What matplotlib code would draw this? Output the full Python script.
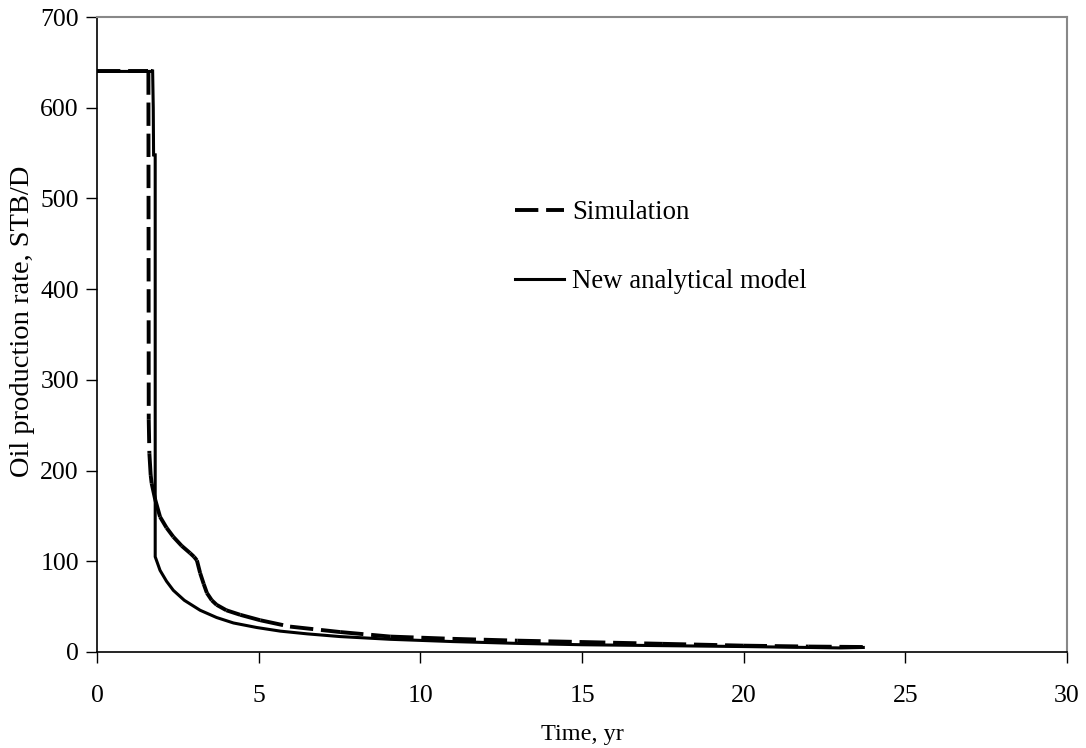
import matplotlib
matplotlib.use("Agg")
import matplotlib.pyplot as plt
import numpy as np
from matplotlib.collections import LineCollection
from matplotlib.lines import Line2D

# Simulation (dashed)
sim_t = [0.0, 1.59, 1.60, 1.62, 1.66, 1.69, 1.80, 1.95, 2.15, 2.36, 2.62, 2.88, 3.00, 3.09, 3.19,
         3.30, 3.40, 3.55, 3.70, 4.00, 4.43, 5.05, 5.97, 7.52, 9.07, 11.0, 13.0, 15.0, 17.5, 20.0, 22.0, 23.7]
sim_q = [640, 640, 256, 219, 195, 186, 168, 149, 137, 127, 117, 109, 105, 101, 87,
         75, 65, 57, 52, 46, 41, 35, 28, 22, 17, 14.5, 12.5, 11, 9, 7, 6, 5.5]

# New analytical model (solid)
ana_t = [0.0, 1.70, 1.72, 1.74, 1.75, 1.80, 1.80, 1.95, 2.15, 2.36, 2.70, 3.19, 3.70, 4.22, 4.94,
         5.67, 6.5, 7.52, 9.07, 11.0, 13.0, 15.0, 17.5, 20.0, 22.0, 23.0, 23.7]
ana_q = [640, 640, 642, 600, 548, 548, 105, 90, 78, 68, 57, 46, 38, 32, 27,
         23, 20, 17, 14, 11.5, 9.5, 8, 7, 6, 5, 4.5, 5]

x_ticks = [0, 5, 10, 15, 20, 25, 30]
y_ticks = [0, 100, 200, 300, 400, 500, 600, 700]

plt.rcParams['font.family'] = ['Liberation Serif', 'DejaVu Serif']

fig = plt.figure(figsize=(10.86, 7.48), dpi=100)
ax = fig.add_axes([97/1086, 1 - 652/748, (1067 - 97)/1086, (652 - 17)/748])

dash = (0, (6, 2))
pts = np.column_stack([sim_t, sim_q])
segs = [pts[i:i + 2] for i in range(len(pts) - 1)]
lc = LineCollection(segs, colors='black', linewidths=2.8, linestyles=[dash], capstyle='butt')
ax.add_collection(lc)

ax.plot(ana_t, ana_q, color='black', lw=2.2, linestyle='-', solid_joinstyle='miter')

ax.set_xlim(0, 30)
ax.set_ylim(0, 700)
ax.set_xticks(x_ticks)
ax.set_yticks(y_ticks)
ax.tick_params(direction='out', length=8, width=1, labelsize=18.5)
ax.tick_params(axis='y', pad=5)
ax.tick_params(axis='x', pad=16)
for s in ['top', 'right']:
    ax.spines[s].set_color('#888888')
    ax.spines[s].set_linewidth(1.5)
for s in ['left', 'bottom']:
    ax.spines[s].set_color('black')
    ax.spines[s].set_linewidth(1.2)

ax.set_xlabel('Time, yr', fontsize=17.5)
ax.xaxis.set_label_coords(0.5, (652 - 724) / 635)
ax.set_ylabel('Oil production rate, STB/D', fontsize=20.5)
ax.yaxis.set_label_coords((35 - 97) / 970, (652 - 321) / 635)

handles = [Line2D([], [], color='black', lw=2.8, linestyle=dash),
           Line2D([], [], color='black', lw=2.2, linestyle='-')]
labels = ['Simulation', 'New analytical model']
ax.legend(handles, labels, loc='upper left', bbox_to_anchor=((515 - 97) / 970, (652 - 200) / 635),
          frameon=False, fontsize=19.3, handlelength=1.83, handletextpad=0.3,
          labelspacing=1.65, borderpad=0, borderaxespad=0)

fig.savefig('out.png', dpi=100)
